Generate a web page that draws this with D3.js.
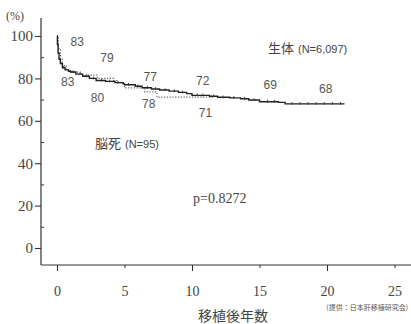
<!DOCTYPE html>
<html>
<head>
<meta charset="utf-8">
<script src="https://cdn.jsdelivr.net/npm/d3@7/dist/d3.min.js"></script>
<style>
  html, body { margin: 0; padding: 0; background: #fff; }
  svg { display: block; }
</style>
</head>
<body>
<svg id="chart" width="411" height="324"></svg>
<script>
// Kaplan–Meier survival after liver transplantation: living donor vs brain-dead donor
const livingCurve = [
  [0, 100], [0.03, 96], [0.08, 92], [0.15, 89], [0.25, 87], [0.4, 85], [0.6, 84],
  [0.85, 83.4], [1.0, 83], [1.4, 82], [1.9, 81], [2.4, 80], [2.9, 79], [3.6, 78.6],
  [4.3, 78], [4.9, 77.4], [5.0, 77], [5.8, 76.3], [6.3, 75.6], [7.0, 75], [7.6, 74.5],
  [8.3, 74], [9.0, 73.4], [9.6, 72.8], [10.0, 72], [11.3, 71.6], [11.9, 71.1],
  [12.8, 70.8], [13.6, 70.4], [14.2, 69.8], [15.0, 69], [16.4, 68.7], [16.9, 68],
  [21.3, 68]
];
const livingCensored = [
  0.5, 1.2, 1.7, 2.2, 2.7, 3.3, 3.9, 4.5, 5.3, 6.0, 6.7, 7.3, 8.0, 8.7, 9.3,
  10.4, 10.8, 11.6, 12.3, 13.1, 13.9, 14.6, 15.6, 16.1, 17.4, 18.0, 18.6, 19.2,
  19.8, 20.4, 21.0
];
const brainDeadCurve = [
  [0, 100], [0.1, 94], [0.25, 89], [0.4, 86], [0.7, 84], [1.0, 83], [1.8, 81.5],
  [3.0, 80], [4.2, 79], [4.5, 78], [5.0, 75.5], [6.5, 73.6], [7.4, 71.2], [11.6, 71]
];

// survival rates printed beside the curves
const livingYears = [1, 3, 5, 10, 15, 20];
const livingRates = [83, 79, 77, 72, 69, 68];
const brainDeadYears = [1, 3, 5, 10];
const brainDeadRates = [83, 80, 78, 71];

const yMajorTicks = [0, 20, 40, 60, 80, 100];
const yMinorTicks = [10, 30, 50, 70, 90];
const xMajorTicks = [0, 10, 20];
const xMinorTicks = [5, 15, 25];
const xTickLabels = [0, 5, 10, 15, 20, 25];

const livingLabel = "生体";
const livingN = "(N=6,097)";
const brainDeadLabel = "脳死";
const brainDeadN = "(N=95)";
const pValueText = "p=0.8272";
const yUnit = "(%)";
const xTitle = "移植後年数";
const sourceNote = "(提供：日本肝移植研究会)";

// label anchors in chart units (years, percent)
const livingLabelAt = [[1.5, 97], [3.7, 89.6], [6.9, 80.7], [10.8, 78.8], [15.8, 76.9], [19.9, 75]];
const brainDeadLabelAt = [[0.8, 78.3], [3.0, 70.8], [6.8, 67.9], [11.0, 63.7]];

const svg = d3.select("#chart");
const x = d3.scaleLinear().domain([0, 25]).range([57, 394.5]);
const y = d3.scaleLinear().domain([0, 100]).range([248, 36]);

const axisX0 = 41, axisY0 = 265;
const ink = "#333";
const serif = "'Liberation Serif', 'DejaVu Serif', serif";
const sans = "'Liberation Sans', Arial, sans-serif";
const cjk = "'Noto Sans CJK JP', sans-serif";

// axis lines
svg.append("line").attr("x1", axisX0).attr("x2", axisX0).attr("y1", 18).attr("y2", axisY0)
  .attr("stroke", ink).attr("stroke-width", 1.2);
svg.append("line").attr("x1", axisX0).attr("x2", 411).attr("y1", axisY0).attr("y2", axisY0)
  .attr("stroke", ink).attr("stroke-width", 1.2);

// y axis: labelled major ticks outside, minor ticks inside
const yAx = svg.append("g").attr("transform", `translate(${axisX0},0)`)
  .call(d3.axisLeft(y).tickValues(yMajorTicks).tickSize(6).tickPadding(2).tickFormat(d3.format("d")));
yAx.select(".domain").remove();
yAx.selectAll("line").attr("stroke", ink).attr("stroke-width", 1.1);
yAx.selectAll("text").attr("font-family", serif).attr("font-size", 15).attr("fill", "#444");

const yMin = svg.append("g").attr("transform", `translate(${axisX0},0)`)
  .call(d3.axisRight(y).tickValues(yMinorTicks).tickSize(3).tickFormat(""));
yMin.select(".domain").remove();
yMin.selectAll("line").attr("stroke", ink);

// x axis
const xAx = svg.append("g").attr("transform", `translate(0,${axisY0})`)
  .call(d3.axisBottom(x).tickValues(xMajorTicks).tickSize(6).tickFormat(""));
xAx.select(".domain").remove();
xAx.selectAll("line").attr("stroke", ink).attr("stroke-width", 1.1);

const xMin = svg.append("g").attr("transform", `translate(0,${axisY0})`)
  .call(d3.axisBottom(x).tickValues(xMinorTicks).tickSize(3).tickFormat(""));
xMin.select(".domain").remove();
xMin.selectAll("line").attr("stroke", ink);

const xLab = svg.append("g").attr("transform", `translate(0,${axisY0})`)
  .call(d3.axisBottom(x).tickValues(xTickLabels).tickSize(0).tickPadding(21).tickFormat(d3.format("d")));
xLab.select(".domain").remove();
xLab.selectAll("text").attr("font-family", serif).attr("font-size", 14).attr("fill", "#444");

// survival curves
const step = d3.line().x(d => x(d[0])).y(d => y(d[1])).curve(d3.curveStepAfter);

svg.append("path").datum(brainDeadCurve).attr("d", step)
  .attr("fill", "none").attr("stroke", "#666").attr("stroke-width", 1.2)
  .attr("stroke-dasharray", "1.2,1.6");

svg.append("path").datum(livingCurve).attr("d", step)
  .attr("fill", "none").attr("stroke", "#222").attr("stroke-width", 1.4);

// censoring marks on the living-donor curve
const survivalAt = t => {
  let v = livingCurve[0][1];
  for (const [yr, s] of livingCurve) { if (yr <= t) v = s; }
  return v;
};
svg.append("g").selectAll("line").data(livingCensored).join("line")
  .attr("x1", d => x(d)).attr("x2", d => x(d))
  .attr("y1", d => y(survivalAt(d)) - 1.8).attr("y2", d => y(survivalAt(d)) + 1)
  .attr("stroke", "#333").attr("stroke-width", 0.9);

// survival rate labels
svg.append("g").selectAll("text").data(livingRates).join("text")
  .attr("x", (d, i) => x(livingLabelAt[i][0])).attr("y", (d, i) => y(livingLabelAt[i][1]))
  .attr("text-anchor", "middle").attr("dominant-baseline", "central")
  .attr("font-family", sans).attr("font-size", 12).attr("fill", "#555")
  .text(d => d);
svg.append("g").selectAll("text").data(brainDeadRates).join("text")
  .attr("x", (d, i) => x(brainDeadLabelAt[i][0])).attr("y", (d, i) => y(brainDeadLabelAt[i][1]))
  .attr("text-anchor", "middle").attr("dominant-baseline", "central")
  .attr("font-family", sans).attr("font-size", 12).attr("fill", "#555")
  .text(d => d);

// group names
const g1 = svg.append("text").attr("x", 268).attr("y", 53).attr("fill", "#444");
g1.append("tspan").attr("font-family", cjk).attr("font-size", 13).text(livingLabel);
g1.append("tspan").attr("font-family", sans).attr("font-size", 11).attr("dx", 4).text(livingN);

const g2 = svg.append("text").attr("x", 95).attr("y", 148).attr("fill", "#444");
g2.append("tspan").attr("font-family", cjk).attr("font-size", 13).text(brainDeadLabel);
g2.append("tspan").attr("font-family", sans).attr("font-size", 11).attr("dx", 4).text(brainDeadN);

svg.append("text").attr("x", 193).attr("y", 203)
  .attr("font-family", serif).attr("font-size", 14).attr("fill", "#444").text(pValueText);

svg.append("text").attr("x", 6).attr("y", 20)
  .attr("font-family", serif).attr("font-size", 12).attr("fill", "#444").text(yUnit);

svg.append("text").attr("x", 233).attr("y", 321).attr("text-anchor", "middle")
  .attr("font-family", cjk).attr("font-size", 14).attr("fill", "#444").text(xTitle);

svg.append("text").attr("x", 408).attr("y", 310).attr("text-anchor", "end")
  .attr("font-family", cjk).attr("font-size", 7).attr("fill", "#555").text(sourceNote);
</script>
</body>
</html>
